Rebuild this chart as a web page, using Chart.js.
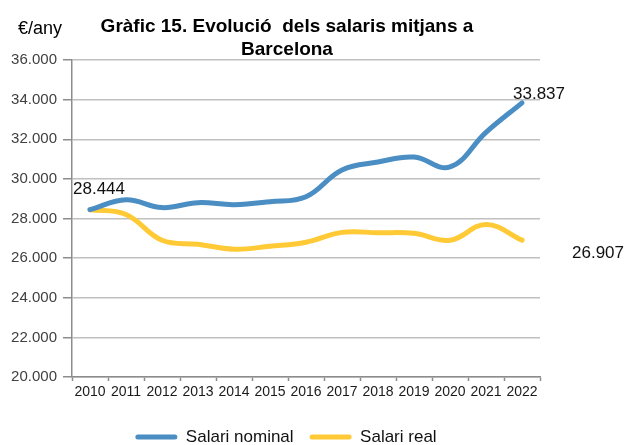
<!DOCTYPE html>
<html>
<head>
<meta charset="utf-8">
<script src="https://cdn.jsdelivr.net/npm/chart.js@4"></script>
<style>
  html, body { margin: 0; padding: 0; background: #fff; }
  #wrap { width: 628px; height: 445px; }
</style>
</head>
<body>
<div id="wrap"><canvas id="chart" width="628" height="445"></canvas></div>
<script>
// 📅 categories
const years = ['2010', '2011', '2012', '2013', '2014', '2015', '2016', '2017', '2018', '2019', '2020', '2021', '2022'];

// 💶 series values (€/any)
const salariNominal = [28444, 28950, 28550, 28800, 28700, 28850, 29100, 30450, 30850, 31100, 30600, 32350, 33837];
const salariReal = [28444, 28200, 26900, 26700, 26450, 26600, 26800, 27300, 27280, 27250, 26900, 27700, 26907];

// 📏 y axis ticks
const yMin = 20000;
const yMax = 36000;
const yStep = 2000;

const titleLines = ['Gràfic 15. Evolució  dels salaris mitjans a', 'Barcelona'];
const unitLabel = '€/any';

const FONT = '"Liberation Sans", Arial, sans-serif';
const LEGEND_PAD = 16;

// 🔢 27.000 style
function fmt(v) {
  return String(Math.round(v)).replace(/\B(?=(\d{3})+(?!\d))/g, '.');
}

// 🏷️ title + unit text
const titlePlugin = {
  id: 'titleText',
  afterDraw(chart) {
    const ctx = chart.ctx;
    ctx.save();
    ctx.fillStyle = '#000';
    ctx.textAlign = 'center';
    ctx.textBaseline = 'alphabetic';
    ctx.font = 'bold 19px ' + FONT;
    ctx.fillText(titleLines[0], 287, 32);
    ctx.fillText(titleLines[1], 287, 55);
    ctx.textAlign = 'left';
    ctx.font = '18px ' + FONT;
    ctx.fillText(unitLabel, 18, 34);
    ctx.restore();
  }
};

// 🔖 value labels (first, last nominal, last real)
const valueLabels = {
  id: 'valueLabels',
  afterDatasetsDraw(chart) {
    const ctx = chart.ctx;
    const nom = chart.getDatasetMeta(0).data;
    const real = chart.getDatasetMeta(1).data;
    const last = years.length - 1;
    ctx.save();
    ctx.font = '17px ' + FONT;
    ctx.fillStyle = '#111';
    ctx.textAlign = 'center';
    ctx.textBaseline = 'middle';
    ctx.fillText(fmt(salariNominal[0]), nom[0].x + 9, nom[0].y - 20);
    ctx.fillText(fmt(salariNominal[last]), nom[last].x + 17, nom[last].y - 9);
    ctx.fillText(fmt(salariReal[last]), real[last].x + 76, real[last].y + 13);
    ctx.restore();
  }
};

// ↔️ nudge legend into place (text centre at y=437)
const legendNudge = {
  id: 'legendNudge',
  afterLayout(chart) {
    const lg = chart.legend;
    if (!lg) return;
    const dx = 16;
    const dy = (437 - LEGEND_PAD - 8.5) - lg.top;
    lg.left += dx; lg.right += dx;
    lg.top += dy; lg.bottom += dy;
  }
};

const ctx = document.getElementById('chart').getContext('2d');

new Chart(ctx, {
  type: 'line',
  data: {
    labels: years,
    datasets: [
      {
        label: 'Salari nominal',
        data: salariNominal,
        borderColor: '#4a8ec4',
        backgroundColor: '#4a8ec4',
        borderWidth: 5,
        pointRadius: 0,
        tension: 0.4,
        borderCapStyle: 'round'
      },
      {
        label: 'Salari real',
        data: salariReal,
        borderColor: '#ffca35',
        backgroundColor: '#ffca35',
        borderWidth: 5,
        pointRadius: 0,
        tension: 0.4,
        borderCapStyle: 'round'
      }
    ]
  },
  options: {
    responsive: false,
    animation: false,
    layout: { padding: { top: 60, right: 88, left: 0, bottom: 0 } },
    plugins: {
      legend: {
        position: 'bottom',
        labels: {
          boxWidth: 42,
          boxHeight: 5,
          padding: LEGEND_PAD,
          color: '#111',
          useBorderRadius: true,
          borderRadius: 2.5,
          font: { family: FONT, size: 17 },
          generateLabels(chart) {
            const items = Chart.defaults.plugins.legend.labels.generateLabels(chart);
            items.forEach(it => { it.lineWidth = 0; });
            return items;
          }
        }
      },
      tooltip: { enabled: false }
    },
    scales: {
      x: {
        offset: true,
        grid: {
          offset: true,
          drawOnChartArea: false,
          drawTicks: true,
          tickLength: 4,
          tickColor: '#8c8c8c',
          tickWidth: 1.5
        },
        border: { color: '#8c8c8c', width: 1.5 },
        ticks: {
          color: '#1a1a1a',
          padding: 3,
          maxRotation: 0,
          autoSkip: false,
          font: { family: FONT, size: 14 }
        },
        afterFit(scale) {
          scale.height = 445 - 377 - (scale.chart.legend ? scale.chart.legend.height : 0);
        }
      },
      y: {
        min: yMin,
        max: yMax,
        grid: {
          color: '#c0c0c0',
          lineWidth: 1.5,
          tickLength: 9,
          tickColor: '#8c8c8c'
        },
        border: { color: '#8c8c8c', width: 1.5 },
        ticks: {
          stepSize: yStep,
          padding: 6,
          color: '#404040',
          font: { family: FONT, size: 15 },
          callback: v => fmt(v)
        },
        afterFit(scale) {
          scale.width = 72;
        }
      }
    }
  },
  plugins: [titlePlugin, valueLabels, legendNudge]
});
</script>
</body>
</html>
